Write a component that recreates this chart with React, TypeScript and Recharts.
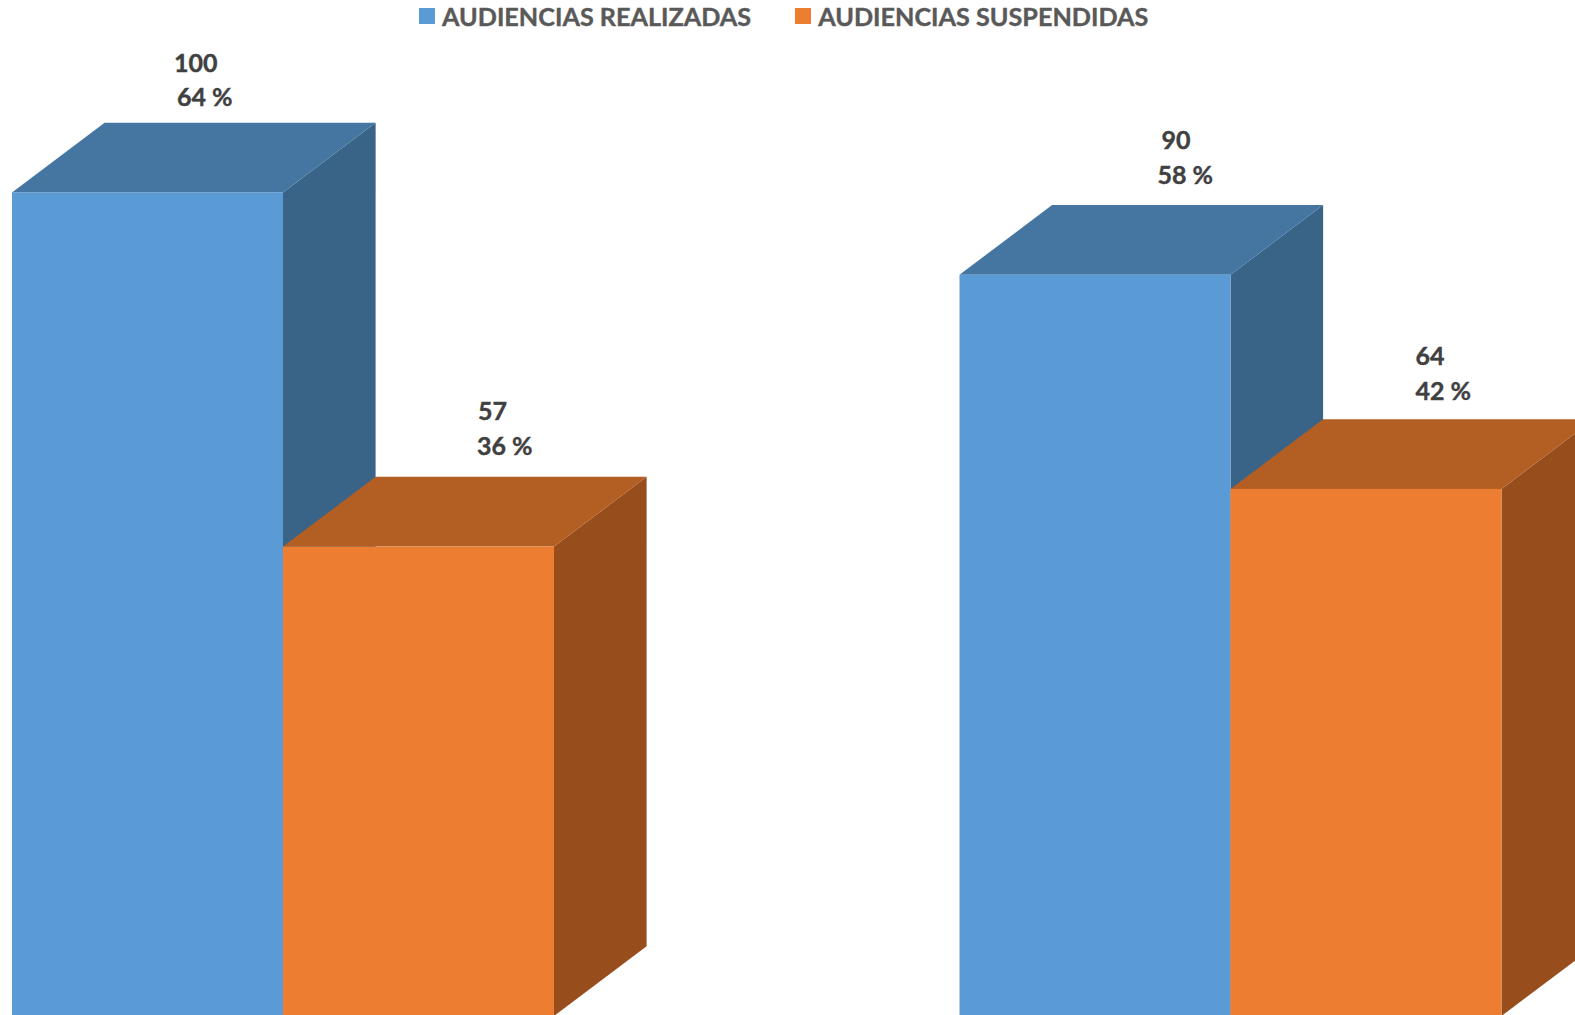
import React from "react";
import { BarChart, Bar, XAxis, YAxis, Legend, LabelList } from "recharts";

const categories = ["Grupo 1", "Grupo 2"];
const realizadas = [100, 90];
const suspendidas = [57, 64];
const realizadasPct = ["64 %", "58 %"];
const suspendidasPct = ["36 %", "42 %"];

const data = categories.map((name, i) => ({
  name,
  realizadas: realizadas[i],
  suspendidas: suspendidas[i],
}));

const FONT = "Lato, sans-serif";
const DEPTH_X = 92.6;
const DEPTH_Y = 69.7;
const SHIFT_X = 191.4; // the first band starts left of the page

// label placement relative to the bar's top left corner: [x, first line y, second line y]
const realizadasLabelPos = [
  { x1: 162, x2: 165, y1: -120, y2: -86.5 },
  { x1: 202, x2: 198, y1: -126, y2: -91 },
];
const suspendidasLabelPos = [
  { x1: 195, x2: 194, y1: -127, y2: -92 },
  { x1: 185, x2: 185, y1: -124, y2: -89 },
];

function Bar3D(props: any) {
  const { x, y, width, height, front, top, side } = props;
  const r = x + width;
  const b = y + height;
  return (
    <g>
      <polygon
        points={`${r},${y} ${r + DEPTH_X},${y - DEPTH_Y} ${r + DEPTH_X},${b - DEPTH_Y} ${r},${b}`}
        fill={side}
      />
      <polygon
        points={`${x},${y} ${x + DEPTH_X},${y - DEPTH_Y} ${r + DEPTH_X},${y - DEPTH_Y} ${r},${y}`}
        fill={top}
      />
      <rect x={x} y={y} width={width} height={height} fill={front} />
    </g>
  );
}

function twoLineLabel(pct: string[], pos: typeof realizadasLabelPos) {
  return (props: any) => {
    const { x, y, value, index } = props;
    const p = pos[index];
    return (
      <text
        fontFamily={FONT}
        fontWeight={700}
        fontSize={25}
        fill="#404040"
        stroke="#404040"
        strokeWidth={0.4}
      >
        <tspan x={x + p.x1} y={y + p.y1}>
          {value}
        </tspan>
        <tspan x={x + p.x2} y={y + p.y2}>
          {pct[index]}
        </tspan>
      </text>
    );
  };
}

function LegendRow({ payload }: any) {
  return (
    <div style={{ display: "flex", alignItems: "center" }}>
      {(payload || []).map((item: any, i: number) => (
        <div
          key={item.value}
          style={{ display: "flex", alignItems: "center", marginRight: i === 0 ? 44 : 0 }}
        >
          <span
            style={{ width: 16, height: 16, background: item.color, marginRight: 7, display: "block" }}
          />
          <span
            style={{
              fontFamily: FONT,
              fontWeight: 700,
              fontSize: 25.2,
              color: "#595959",
              whiteSpace: "nowrap",
              WebkitTextStroke: "0.4px #595959",
            }}
          >
            {item.value}
          </span>
        </div>
      ))}
    </div>
  );
}

export default function App() {
  return (
    <div style={{ position: "absolute", left: 0, top: 0, width: 1575, height: 1015, overflow: "hidden" }}>
      <div style={{ position: "absolute", left: -SHIFT_X, top: 0 }}>
        <BarChart
          width={1895}
          height={1016}
          data={data}
          barSize={271}
          barGap={0}
          margin={{ top: 192.4, right: 0, bottom: 0, left: 0 }}
        >
          <XAxis dataKey="name" hide />
          <YAxis hide domain={[0, 100]} />
          <Legend
            layout="horizontal"
            verticalAlign="middle"
            align="center"
            content={<LegendRow />}
            wrapperStyle={{ top: 1, left: 419 + SHIFT_X, width: 800 }}
          />
          <Bar
            dataKey="realizadas"
            name="AUDIENCIAS REALIZADAS"
            fill="#5B9BD5"
            isAnimationActive={false}
            shape={<Bar3D front="#5B9BD5" top="#4575A1" side="#396487" />}
          >
            <LabelList dataKey="realizadas" content={twoLineLabel(realizadasPct, realizadasLabelPos)} />
          </Bar>
          <Bar
            dataKey="suspendidas"
            name="AUDIENCIAS SUSPENDIDAS"
            fill="#ED7D31"
            isAnimationActive={false}
            shape={<Bar3D front="#ED7D31" top="#B35E22" side="#974E1C" />}
          >
            <LabelList dataKey="suspendidas" content={twoLineLabel(suspendidasPct, suspendidasLabelPos)} />
          </Bar>
        </BarChart>
      </div>
    </div>
  );
}
